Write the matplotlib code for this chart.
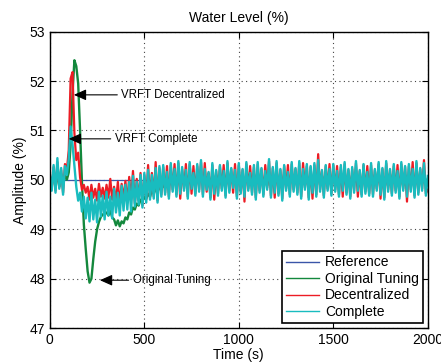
import numpy as np
import matplotlib
matplotlib.use('Agg')
import matplotlib.pyplot as plt

plt.rcParams['font.family'] = ['Liberation Sans', 'DejaVu Sans']

# sample times (s), one sample every 10 s
time_s = np.arange(0, 2001, 10)

reference = [50.0] * len(time_s)

original_tuning = [
    50.05, 49.88, 50.14, 49.92, 50.10, 49.86, 50.12, 49.94, 50.08, 50.00,
    50.15, 50.70, 51.75, 52.42, 52.30, 51.95, 51.00, 49.95, 49.10, 48.60,
    48.15, 47.92, 48.00, 48.40, 48.75, 49.00, 49.15, 49.25, 49.30, 49.32,
    49.34, 49.28, 49.38, 49.24, 49.20, 49.08, 49.18, 49.06, 49.16, 49.12,
    49.24, 49.20, 49.34, 49.30, 49.44, 49.40, 49.52, 49.48, 49.60, 49.56,
    49.66, 49.62, 49.72, 49.66, 49.78, 49.72, 49.82, 49.76, 49.86, 49.80,
    49.90, 49.84, 49.94, 49.88, 49.98, 49.90, 50.02, 49.92, 50.04, 49.94,
    50.08, 49.92, 50.10, 49.90, 50.06, 49.94, 50.12, 49.88, 50.04, 49.96,
    50.10, 49.90, 50.08, 49.94, 50.12, 49.88, 50.06, 49.92, 50.10, 49.94,
    50.06, 49.90, 50.12, 49.92, 50.08, 49.88, 50.10, 49.94, 50.04, 49.90,
    50.12, 49.92, 50.06, 49.90, 50.10, 49.94, 50.08, 49.88, 50.12, 49.92,
    50.04, 49.90, 50.10, 49.94, 50.06, 49.88, 50.12, 49.92, 50.08, 49.90,
    50.10, 49.94, 50.06, 49.88, 50.12, 49.90, 50.08, 49.92, 50.04, 49.94,
    50.12, 49.88, 50.10, 49.92, 50.06, 49.90, 50.08, 49.94, 50.10, 49.88,
    50.06, 49.92, 50.12, 49.90, 50.08, 49.94, 50.04, 49.88, 50.10, 49.92,
    50.08, 49.90, 50.06, 49.94, 50.12, 49.88, 50.10, 49.92, 50.06, 49.90,
    50.10, 49.94, 50.08, 49.88, 50.04, 49.92, 50.12, 49.90, 50.08, 49.94,
    50.06, 49.88, 50.10, 49.92, 50.08, 49.90, 50.12, 49.94, 50.06, 49.88,
    50.12, 49.92, 50.06, 49.90, 50.10, 49.94, 50.08, 49.88, 50.10, 49.92,
    50.08, 49.90, 50.12, 49.94, 50.06, 49.88, 50.10, 49.92, 50.04, 49.90,
    50.02,
]

decentralized = [
    50.08, 49.82, 50.26, 49.78, 50.36, 49.86, 50.20, 49.74, 50.32, 50.20,
    50.60, 52.05, 52.18, 50.95, 50.40, 50.55, 50.05, 49.80, 49.90, 49.74,
    49.86, 49.60, 49.90, 49.64, 49.82, 49.58, 49.92, 49.66, 49.84, 49.62,
    49.90, 49.64, 50.02, 49.60, 49.86, 49.56, 49.96, 49.50, 49.92, 49.62,
    49.98, 49.54, 50.06, 49.60, 50.18, 49.52, 50.02, 49.58, 50.14, 49.48,
    50.10, 49.60, 50.30, 49.64, 50.14, 49.66, 50.36, 49.58, 50.24, 49.70,
    50.26, 49.74, 50.28, 49.66, 50.30, 49.80, 50.32, 49.70, 50.34, 49.62,
    50.22, 49.82, 50.32, 49.66, 50.32, 49.72, 50.28, 49.72, 50.28, 49.80,
    50.36, 49.70, 50.34, 49.76, 50.14, 49.64, 50.30, 49.60, 50.18, 49.72,
    50.28, 49.82, 50.30, 49.68, 50.34, 49.78, 50.22, 49.74, 50.32, 49.66,
    50.30, 49.76, 50.20, 49.56, 50.32, 49.82, 50.28, 49.74, 50.26, 49.64,
    50.32, 49.78, 50.22, 49.70, 50.30, 49.84, 50.38, 49.68, 50.24, 49.64,
    50.34, 49.72, 50.20, 49.62, 50.28, 49.82, 50.30, 49.70, 50.32, 49.80,
    50.22, 49.74, 50.34, 49.66, 50.34, 49.84, 50.28, 49.64, 50.26, 49.62,
    50.30, 49.70, 50.52, 49.80, 50.18, 49.68, 50.28, 49.82, 50.32, 49.72,
    50.30, 49.80, 50.28, 49.70, 50.26, 49.66, 50.32, 49.74, 50.20, 49.66,
    50.22, 49.78, 50.34, 49.66, 50.18, 49.70, 50.30, 49.76, 50.28, 49.72,
    50.30, 49.70, 50.20, 49.82, 50.32, 49.62, 50.22, 49.64, 50.34, 49.80,
    50.20, 49.72, 50.28, 49.78, 50.30, 49.66, 50.32, 49.82, 50.26, 49.56,
    50.28, 49.80, 50.36, 49.68, 50.34, 49.74, 50.22, 49.82, 50.40, 49.72,
    49.80,
]

complete = [
    50.12, 49.78, 50.30, 49.74, 50.44, 49.82, 50.24, 49.70, 50.28, 50.10,
    50.42, 51.08, 50.72, 50.30, 49.86, 49.58, 49.74, 49.36, 49.66, 49.22,
    49.64, 49.16, 49.74, 49.20, 49.60, 49.14, 49.76, 49.26, 49.68, 49.20,
    49.76, 49.28, 49.66, 49.22, 49.82, 49.34, 49.74, 49.28, 49.88, 49.38,
    49.90, 49.40, 49.96, 49.36, 50.08, 49.46, 49.96, 49.50, 50.10, 49.44,
    50.14, 49.54, 50.20, 49.60, 50.10, 49.62, 50.24, 49.54, 50.28, 49.66,
    50.30, 49.70, 50.16, 49.62, 50.34, 49.76, 50.22, 49.66, 50.38, 49.72,
    50.26, 49.78, 50.20, 49.62, 50.36, 49.82, 50.14, 49.68, 50.32, 49.76,
    50.40, 49.66, 50.22, 49.80, 50.16, 49.60, 50.34, 49.72, 50.20, 49.68,
    50.30, 49.78, 50.18, 49.64, 50.38, 49.74, 50.24, 49.84, 50.20, 49.62,
    50.34, 49.72, 50.22, 49.66, 50.36, 49.78, 50.14, 49.70, 50.30, 49.60,
    50.36, 49.74, 50.24, 49.66, 50.18, 49.80, 50.42, 49.64, 50.26, 49.74,
    50.38, 49.68, 50.22, 49.58, 50.30, 49.78, 50.16, 49.66, 50.36, 49.76,
    50.24, 49.70, 50.38, 49.62, 50.22, 49.80, 50.32, 49.60, 50.28, 49.74,
    50.34, 49.66, 50.40, 49.76, 50.20, 49.64, 50.30, 49.78, 50.22, 49.68,
    50.32, 49.76, 50.18, 49.66, 50.30, 49.78, 50.36, 49.70, 50.22, 49.62,
    50.26, 49.74, 50.38, 49.78, 50.20, 49.66, 50.32, 49.72, 50.16, 49.68,
    50.34, 49.66, 50.22, 49.78, 50.36, 49.70, 50.24, 49.60, 50.38, 49.76,
    50.22, 49.68, 50.32, 49.74, 50.18, 49.62, 50.36, 49.78, 50.28, 49.66,
    50.32, 49.76, 50.22, 49.64, 50.38, 49.70, 50.24, 49.78, 50.34, 49.68,
    50.08,
]

fig = plt.figure(figsize=(4.41, 3.63), dpi=100)
ax = fig.add_axes([0.113, 0.096, 0.857, 0.817])

ax.plot(time_s, reference, color='#3a55a8', lw=0.9, label='Reference')
ax.plot(time_s, original_tuning, color='#13883c', lw=1.7, label='Original Tuning')
ax.plot(time_s, decentralized, color='#ec1c24', lw=1.6, label='Decentralized')
ax.plot(time_s, complete, color='#19bcbf', lw=1.7, label='Complete')

ax.set_xlim(0, 2000)
ax.set_ylim(47, 53)
ax.set_xticks([0, 500, 1000, 1500, 2000])
ax.set_yticks([47, 48, 49, 50, 51, 52, 53])
ax.tick_params(direction='in', top=True, right=True, labelsize=10, length=4)
ax.grid(True, linestyle=(0, (1, 3)), color='#444444', lw=0.8)
ax.set_axisbelow(True)
for s in ax.spines.values():
    s.set_linewidth(1.0)

ax.set_title('Water Level (%)', fontsize=10, pad=7)
ax.set_xlabel('Time (s)', fontsize=10, labelpad=1)
ax.set_ylabel('Amplitude (%)', fontsize=10, labelpad=2)

arrow = dict(arrowstyle='-|>,head_length=0.9,head_width=0.4', color='black',
             lw=0.8, relpos=(0, 0.5), shrinkA=1, shrinkB=0)
ax.annotate('VRFT Decentralized', xy=(127, 51.72), xytext=(379, 51.72),
            fontsize=8.3, ha='left', va='center', arrowprops=arrow)
ax.annotate('VRFT Complete', xy=(100, 50.83), xytext=(344, 50.83),
            fontsize=8.3, ha='left', va='center', arrowprops=arrow)
ax.annotate('Original Tuning', xy=(265, 47.97), xytext=(439, 47.97),
            fontsize=8.3, ha='left', va='center', arrowprops=arrow)

leg = ax.legend(loc='lower right', bbox_to_anchor=(0.987, 0.017), fontsize=10,
                frameon=True, fancybox=False, borderaxespad=0, handlelength=2.4,
                handletextpad=0.4, labelspacing=0.18, borderpad=0.3)
leg.get_frame().set_edgecolor('black')
leg.get_frame().set_linewidth(1.2)
leg.get_frame().set_alpha(1)
for line in leg.get_lines():
    line.set_linewidth(1.0)

fig.savefig('out.png', dpi=100)
